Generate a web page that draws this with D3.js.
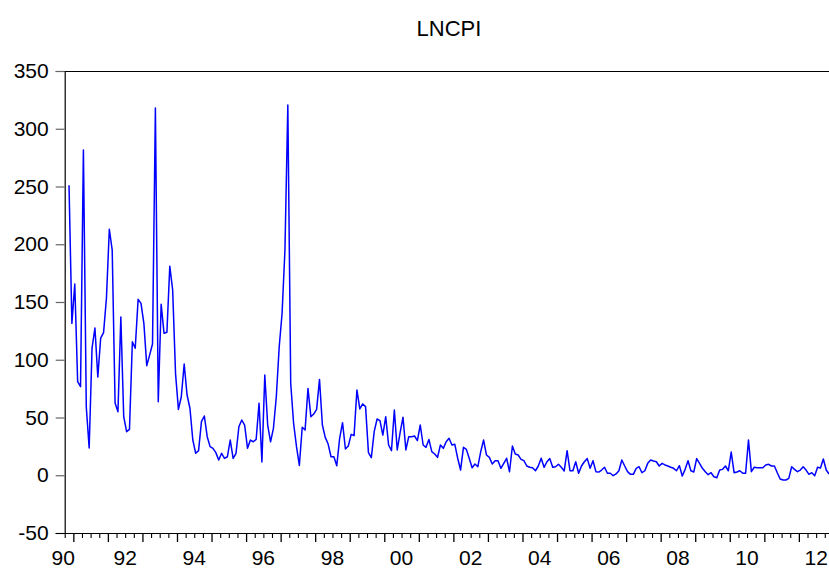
<!DOCTYPE html>
<html>
<head>
<meta charset="utf-8">
<script src="https://cdn.jsdelivr.net/npm/d3@7"></script>
<style>
  html, body { margin: 0; padding: 0; background: #fff; }
  svg { display: block; font-family: "Liberation Sans", Arial, sans-serif; }
</style>
</head>
<body>
<svg id="chart" width="829" height="569"></svg>
<script>
// ---- Data ----
const title = "LNCPI";
const startYear = 1990;
const startMonth = 11; // first observation: 1990M11
const values = [
  251, 131.5, 165.6, 81, 76.7, 281.6, 59, 23.6, 110, 127.5, 85, 118.8,
  123.5, 153.5, 213, 195, 62.5, 55, 137, 50.7, 37.7, 39.7, 115.6, 110,
  152.3, 148.8, 131.5, 94.9, 104, 113.6, 318, 63.7, 148, 123, 123.8, 181,
  160.4, 88, 57, 68, 96.3, 69.5, 58, 30.5, 19, 21.3, 46.4, 51.3,
  33.4, 24.8, 23.3, 19.6, 13.2, 19, 14.6, 16, 30.5, 14.6, 19, 42,
  47.8, 43.5, 23.3, 30.5, 29, 31, 62.3, 11.5, 86.8, 43.5, 29, 40.6,
  68, 111, 140, 195, 320.6, 79.6, 45, 25, 8.5, 41.5, 39.2, 75.2,
  50.7, 53, 57, 83, 43.5, 32.8, 27, 16, 16, 8.3, 32, 45.5,
  22.7, 25.3, 35.4, 34.3, 73.8, 57.4, 61.7, 59.4, 19.6, 15.2, 37.7, 48.7,
  47.3, 34.8, 50.7, 26.2, 21.3, 56.5, 21.9, 36.8, 50.2, 21.9, 33.4, 33.4,
  34, 30, 43.5, 26.2, 24.2, 31, 20.4, 18.4, 15.5, 26.2, 23.3, 29,
  32, 26.2, 26.8, 14.7, 4.5, 24.2, 22.4, 14.7, 6.5, 9.7, 7.4, 20.4,
  30.5, 17.5, 15.5, 9.7, 12.6, 12.6, 6, 10.3, 14.7, 3, 25.3, 18.4,
  17.5, 13.8, 12.6, 8, 6.9, 6.5, 3.9, 8, 14.7, 6.9, 11.7, 14.4,
  6.9, 7.4, 9.5, 6.9, 3.7, 21.3, 3.9, 3.9, 11.7, 1.7, 8, 11.7,
  14.4, 6, 12.6, 3.1, 2.8, 4.5, 6.9, 1.7, 1.7, -0.4, 1.1, 3.9,
  13.2, 8, 3.1, 0.8, 0.8, 6, 7.4, 2.2, 3.9, 10.3, 13.2, 12.3,
  11.7, 8, 10.3, 8.9, 8, 6.9, 6, 3.9, 8.3, -0.6, 5.1, 12.6,
  3.9, 2.8, 14.4, 10.3, 6, 3.1, 0.5, 2.2, -1.3, -2.1, 4.5, 5.1,
  8, 3.9, 20.1, 2.2, 2.8, 3.9, 1.7, 1.7, 30.5, 3.1, 6.9, 6.5,
  6.5, 6.5, 8.9, 9.5, 8, 8, 2.2, -3.2, -4.1, -4.1, -2.7, 7.4,
  5.1, 3.1, 4.5, 7.4, 4.5, 0.8, 2.2, -0.4, 6.9, 6.3, 14.1, 4.5,
  1.1
];
const yTicks = [-50, 0, 50, 100, 150, 200, 250, 300, 350];
const xLabelYears = [1990, 1992, 1994, 1996, 1998, 2000, 2002, 2004, 2006, 2008, 2010, 2012];

// ---- Build series (decimal year, mid-month) ----
const series = values.map((v, k) => {
  const m = startMonth - 1 + k;
  return { t: startYear + m / 12 + 1 / 24, v: v };
});

const svg = d3.select("#chart");
const plotL = 64.7, plotR = 829.1, plotT = 71, plotB = 533;
const fs = 21;

const x = d3.scaleLinear().domain([1990.75, 2012.875]).range([plotL, plotR]);
const y = d3.scaleLinear().domain([-50, 350]).range([plotB, plotT]);

// Title
svg.append("text")
  .attr("x", 449).attr("y", 36)
  .attr("text-anchor", "middle")
  .attr("font-size", 22)
  .attr("fill", "#000")
  .text(title);

// Frame: top border
svg.append("line")
  .attr("x1", plotL).attr("x2", 829).attr("y1", plotT + 0.5).attr("y2", plotT + 0.5)
  .attr("stroke", "#000").attr("stroke-width", 1.2);

// Y axis
const yAxis = d3.axisLeft(y).tickValues(yTicks).tickSize(9).tickPadding(7)
  .tickFormat(d => String(d));
const gy = svg.append("g").attr("transform", `translate(${plotL},0)`).call(yAxis);
gy.select(".domain").attr("stroke", "#000").attr("stroke-width", 1.2);
gy.selectAll(".tick line").attr("stroke", "#666").attr("stroke-width", 1.2);
gy.selectAll(".tick text").attr("font-size", fs).attr("fill", "#000")
  .attr("font-family", "Liberation Sans, Arial, sans-serif");

// X axis: quarterly minor ticks, yearly major ticks
const quarterTicks = d3.range(1990.75, 2012.876, 0.25).filter(q => Math.abs(q - Math.round(q)) > 1e-6);
const yearTicks = d3.range(1991, 2013, 1);

const gx = svg.append("g").attr("transform", `translate(0,${plotB})`);
gx.append("line").attr("x1", plotL - 9).attr("x2", 829).attr("y1", 0.5).attr("y2", 0.5)
  .attr("stroke", "#000").attr("stroke-width", 1.2);
const gMinor = gx.append("g").call(
  d3.axisBottom(x).tickValues(quarterTicks).tickSize(5).tickFormat(""));
gMinor.select(".domain").remove();
gMinor.selectAll(".tick line").attr("stroke", "#000").attr("stroke-width", 1.1);
const gMajor = gx.append("g").call(
  d3.axisBottom(x).tickValues(yearTicks).tickSize(9).tickFormat(""));
gMajor.select(".domain").remove();
gMajor.selectAll(".tick line").attr("stroke", "#000").attr("stroke-width", 1.3);

// X labels centred on each labelled year (first one at axis start)
svg.append("g").selectAll("text").data(xLabelYears).join("text")
  .attr("x", d => d === 1990 ? x(1990.75) - 1.5 : x(d + 0.5))
  .attr("y", 564.5)
  .attr("text-anchor", "middle")
  .attr("font-size", fs)
  .attr("fill", "#000")
  .text(d => String(d % 100).padStart(2, "0"));

// Line
const line = d3.line().x(d => x(d.t)).y(d => y(d.v));
svg.append("path").datum(series)
  .attr("d", line)
  .attr("fill", "none")
  .attr("stroke", "#0000ff")
  .attr("stroke-width", 1.5)
  .attr("stroke-linejoin", "round");
</script>
</body>
</html>
